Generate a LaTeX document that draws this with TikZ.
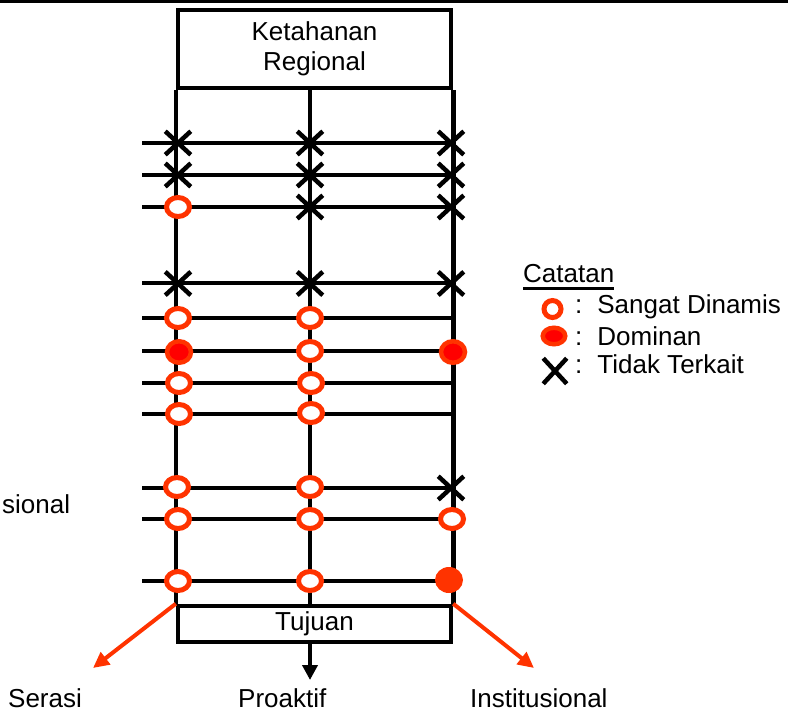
\documentclass[tikz,border=0pt]{standalone}
\usepackage{fontspec}
\setmainfont{Liberation Sans}
\usetikzlibrary{shapes.geometric,shapes.misc,arrows.meta}
\definecolor{ored}{RGB}{255,51,0}
\definecolor{dred}{RGB}{255,0,0}
\begin{document}
\begin{tikzpicture}[x=1pt,y=-1pt,
  txt/.style={font=\fontsize{26}{30}\selectfont, inner sep=0pt},
  frame/.style={draw, line width=4.5pt, inner sep=0pt},
  gridline/.style={line width=4.5pt},
  sd/.style={ellipse, draw=ored, fill=white, line width=5pt, minimum width=23pt, minimum height=19pt, inner sep=0pt},
  dom/.style={ellipse, draw=ored, fill=dred, line width=4.5pt, minimum width=24pt, minimum height=21.5pt, inner sep=0pt},
  domsolid/.style={ellipse, fill=ored, minimum width=28pt, minimum height=26pt, inner sep=0pt},
  tt/.style={cross out, draw=black, line width=4.5pt, minimum width=21pt, minimum height=19pt, inner sep=0pt},
  redarrow/.style={draw=ored, line width=4pt, -{Triangle[length=16pt,width=15pt]}},
  blackarrow/.style={line width=4pt, -{Triangle[length=15pt,width=15pt]}}
]
\useasboundingbox (0,0) rectangle (788,713);
% top rule
\coordinate (tl) at (0,1.5);
\coordinate (tr) at (788,1.5);
\draw[line width=3pt] (tl) -- (tr);
% grid rows
\foreach \i/\y in {1/143,2/175,3/207,4/283,5/318,6/351,7/383,8/414,9/488,10/519,11/581}{
  \coordinate (s\i) at (142,\y);
  \coordinate (e\i) at (451,\y);
  \draw[gridline] (s\i) -- (e\i);
}
% boxes
\node[frame, txt, align=center, minimum width=273pt, minimum height=78pt] (top) at (314.5,49) {Ketahanan\\Regional};
\node[frame, txt, minimum width=273pt, minimum height=36pt] (bot) at (314.5,624) {Tujuan};
% columns
\coordinate (mt) at (310,88);
\coordinate (mb) at (310,606);
\draw[gridline] (top.south west) -- (bot.north west);
\draw[gridline] (mt) -- (mb);
\draw[gridline] (top.south east) -- (bot.north east);
% markers
\node[tt] (m1a) at (178,143) {};
\node[tt] (m1b) at (310,143) {};
\node[tt] (m1c) at (451,143) {};
\node[tt] (m2a) at (178,175) {};
\node[tt] (m2b) at (310,175) {};
\node[tt] (m2c) at (451,175) {};
\node[sd] (m3a) at (178,207) {};
\node[tt] (m3b) at (310,207) {};
\node[tt] (m3c) at (451,207) {};
\node[tt] (m4a) at (178,283.5) {};
\node[tt] (m4b) at (310,283.5) {};
\node[tt] (m4c) at (451,283.5) {};
\node[sd] (m5a) at (178,318) {};
\node[sd] (m5b) at (310,318) {};
\node[dom] (m6a) at (179,352) {};
\node[sd] (m6b) at (310,351) {};
\node[dom] (m6c) at (453,352) {};
\node[sd] (m7a) at (179,383) {};
\node[sd] (m7b) at (311,383) {};
\node[sd] (m8a) at (179,414) {};
\node[sd] (m8b) at (311,413) {};
\node[sd] (m9a) at (177,487) {};
\node[sd] (m9b) at (310,487) {};
\node[tt] (m9c) at (451,488) {};
\node[sd] (m10a) at (178,519) {};
\node[sd] (m10b) at (310,519) {};
\node[sd] (m10c) at (452,519) {};
\node[sd] (m11a) at (178,581) {};
\node[sd] (m11b) at (310,581) {};
\node[domsolid] (m11c) at (449,580) {};
% outgoing arrows
\coordinate (sertip) at (93,668);
\coordinate (insttip) at (534,668);
\coordinate (pstart) at (310,642);
\coordinate (protip) at (310,680);
\draw[redarrow] (bot.north west) -- (sertip);
\draw[redarrow] (bot.north east) -- (insttip);
\draw[blackarrow] (pstart) -- (protip);
% bottom labels
\node[txt, anchor=base west] (serasi) at (8,707) {Serasi};
\node[txt, anchor=base west] (proaktif) at (238,707) {Proaktif};
\node[txt, anchor=base west] (inst) at (470,707) {Institusional};
\node[txt, anchor=base west] (sional) at (2,513) {sional};
% legend
\node[txt, anchor=base west] (cat) at (523,282) {Catatan};
\draw[line width=3pt] ([yshift=-6pt]cat.base west) -- ([yshift=-6pt]cat.base east);
\node[sd, minimum width=17pt, minimum height=17pt] (lsd) at (552.5,309) {};
\node[dom, minimum width=22.5pt, minimum height=16.5pt] (ldom) at (554,336) {};
\node[tt, minimum width=19pt, minimum height=21pt] (ltt) at (555,371) {};
\node[txt, anchor=base west] (l1) at (575,313) {:\hspace{15pt}Sangat Dinamis};
\node[txt, anchor=base west] (l2) at (575,345) {:\hspace{15pt}Dominan};
\node[txt, anchor=base west] (l3) at (575,373) {:\hspace{15pt}Tidak Terkait};
\end{tikzpicture}
\end{document}
